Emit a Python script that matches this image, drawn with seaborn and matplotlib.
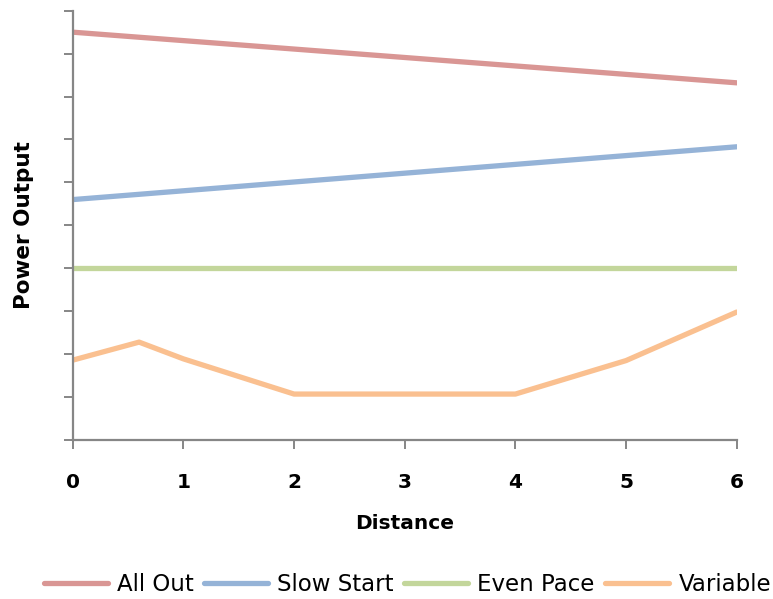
import matplotlib
matplotlib.use("Agg")
import matplotlib.pyplot as plt
import seaborn as sns
import pandas as pd
from matplotlib.lines import Line2D

# ---- data ----
all_out_x = [0, 6]
all_out_y = [9.5, 8.32]
slow_start_x = [0, 6]
slow_start_y = [5.6, 6.83]
even_pace_x = [0, 6]
even_pace_y = [4.0, 4.0]
variable_x = [0, 0.6, 1, 2, 3, 4, 5, 6]
variable_y = [1.86, 2.28, 1.89, 1.07, 1.07, 1.07, 1.85, 2.98]

series_names = ["All Out", "Slow Start", "Even Pace", "Variable"]
series_colors = ["#D99694", "#95B3D7", "#C3D69B", "#FAC090"]
x_ticks = [0, 1, 2, 3, 4, 5, 6]

frames = []
for name, xs, ys in zip(series_names,
                        [all_out_x, slow_start_x, even_pace_x, variable_x],
                        [all_out_y, slow_start_y, even_pace_y, variable_y]):
    frames.append(pd.DataFrame({"Distance": xs, "Power": ys, "Series": name}))
df = pd.concat(frames, ignore_index=True)

sns.set_theme(style="white")
plt.rcParams["font.family"] = ["DejaVu Sans"]

fig = plt.figure(figsize=(7.73, 5.99), dpi=100)
ax = fig.add_axes([72.7 / 773, 1 - 440 / 599, 664 / 773, 429.3 / 599])

sns.lineplot(data=df, x="Distance", y="Power", hue="Series",
             hue_order=series_names, palette=series_colors,
             estimator=None, sort=False, units="Series",
             linewidth=3.8, ax=ax, legend=False)

ax.set_xlim(0, 6)
ax.set_ylim(0, 10)
ax.set_xticks(x_ticks)
ax.set_xticklabels([str(t) for t in x_ticks], fontsize=14.5, fontweight="bold",
                   color="black")
ax.set_yticks(range(0, 11))
ax.set_yticklabels([])

grey = "#868686"
for s in ["top", "right"]:
    ax.spines[s].set_visible(False)
for s in ["left", "bottom"]:
    ax.spines[s].set_color(grey)
    ax.spines[s].set_linewidth(1.6)
ax.tick_params(axis="both", direction="out", length=6.5, width=1.4,
               color=grey, left=True, bottom=True)
ax.tick_params(axis="x", pad=17)

ax.set_xlabel("Distance", fontsize=14.5, fontweight="bold", color="black")
ax.set_ylabel("Power Output", fontsize=15.5, fontweight="bold", color="black")
ax.xaxis.set_label_coords(0.5, (440 - 514) / 429.3)
ax.yaxis.set_label_coords((34 - 72.7) / 664, 0.5)

handles = [Line2D([0], [0], color=c, lw=3.8) for c in series_colors]
fig.legend(handles, series_names, loc="center", bbox_to_anchor=(0.527, 0.025),
           ncol=4, frameon=False, fontsize=16.5, handlelength=2.8,
           handletextpad=0.4, columnspacing=0.45, borderaxespad=0,
           labelcolor="black")

fig.savefig("out.png", dpi=100)
